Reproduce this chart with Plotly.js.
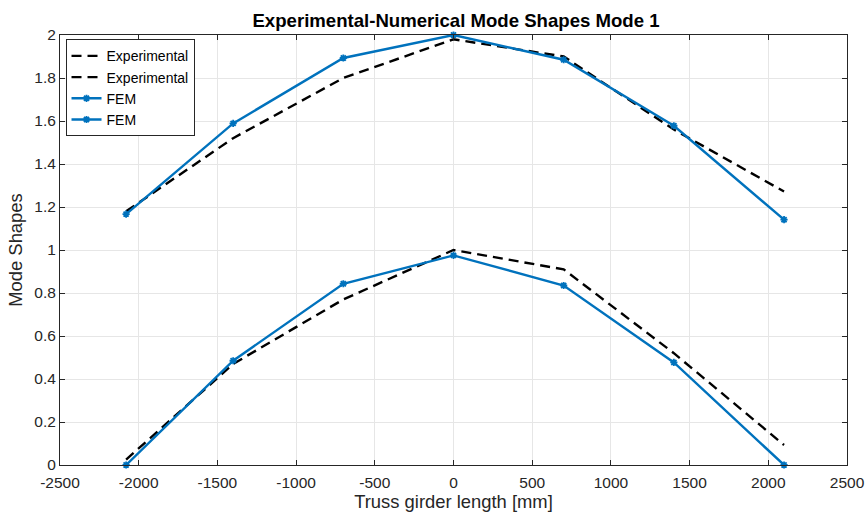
<!DOCTYPE html>
<html>
<head>
<meta charset="utf-8">
<script src="https://cdn.plot.ly/plotly-3.0.1.min.js"></script>
<style>html,body{margin:0;padding:0;background:#fff;}#chart{width:867px;height:516px;}</style>
</head>
<body>
<div id="chart"></div>
<script>
var xPos = [-2080, -1400, -700, 0, 700, 1400, 2100];
var expUpper = [1.18, 1.52, 1.80, 1.98, 1.90, 1.56, 1.272];
var expLower = [0.025, 0.47, 0.77, 1.00, 0.91, 0.52, 0.093];
var femUpper = [1.167, 1.589, 1.893, 2.00, 1.885, 1.578, 1.141];
var femLower = [0.00, 0.485, 0.843, 0.975, 0.835, 0.477, 0.00];

var xTickVals = [-2500, -2000, -1500, -1000, -500, 0, 500, 1000, 1500, 2000, 2500];
var xTickText = ['-2500', '-2000', '-1500', '-1000', '-500', '0', '500', '1000', '1500', '2000', '2500'];
var yTickVals = [0, 0.2, 0.4, 0.6, 0.8, 1, 1.2, 1.4, 1.6, 1.8, 2];
var yTickText = ['0', '0.2', '0.4', '0.6', '0.8', '1', '1.2', '1.4', '1.6', '1.8', '2'];

var blue = '#0072BD';
var FONT = 'Liberation Sans, Arial, Helvetica, sans-serif';
function expTrace(y) {
  return {x: xPos, y: y, type: 'scatter', mode: 'lines', name: 'Experimental',
    line: {color: '#000000', width: 2.4, dash: '10px,6px'}, cliponaxis: false};
}
function femTrace(y) {
  return {x: xPos, y: y, type: 'scatter', mode: 'lines+markers', name: 'FEM',
    line: {color: blue, width: 2.4},
    marker: {symbol: 'asterisk-open', size: 6, color: blue, line: {color: blue, width: 1.8}},
    cliponaxis: false};
}
var data = [expTrace(expUpper), expTrace(expLower), femTrace(femUpper), femTrace(femLower)];

var axisCommon = {
  showline: true, mirror: 'ticks', linecolor: '#262626', linewidth: 1,
  ticks: 'inside', ticklen: 5, tickcolor: '#262626', tickwidth: 1,
  showgrid: true, gridcolor: '#e6e6e6', gridwidth: 1, zeroline: false,
  tickmode: 'array',
  tickfont: {family: FONT, size: 15.5, color: '#262626'}
};
var layout = {
  width: 867, height: 516,
  margin: {l: 60, r: 20, t: 35, b: 51},
  paper_bgcolor: '#ffffff', plot_bgcolor: '#ffffff',
  title: {text: '<b>Experimental-Numerical Mode Shapes Mode 1</b>', x: 0.526, xanchor: 'center', y: 0.961, yanchor: 'middle',
    font: {family: FONT, size: 18.6, color: '#000000'}},
  xaxis: Object.assign({}, axisCommon, {range: [-2500, 2500], tickvals: xTickVals, ticktext: xTickText,
    ticklabelstandoff: 3,
    title: {text: 'Truss girder length [mm]', standoff: 2, font: {family: FONT, size: 18.4, color: '#262626'}}}),
  yaxis: Object.assign({}, axisCommon, {range: [0, 2], tickvals: yTickVals, ticktext: yTickText,
    title: {text: 'Mode Shapes', standoff: 6, font: {family: FONT, size: 18.4, color: '#262626'}}}),
  showlegend: true,
  legend: {x: 0.007, y: 0.99, xanchor: 'left', yanchor: 'top', bgcolor: '#ffffff',
    bordercolor: '#262626', borderwidth: 1, tracegroupgap: 0, itemwidth: 30,
    font: {family: FONT, size: 14, color: '#000000'}}
};
Plotly.newPlot('chart', data, layout, {staticPlot: true, displayModeBar: false});
</script>
</body>
</html>
